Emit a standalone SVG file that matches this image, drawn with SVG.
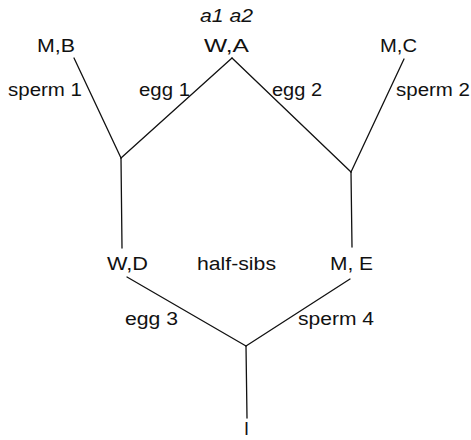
<svg xmlns="http://www.w3.org/2000/svg" width="471" height="440" viewBox="0 0 471 440">
  <style>
    text { font-family: "Liberation Sans", Arial, sans-serif; font-size: 18px; fill: #111; }
    .it { font-style: italic; }
    .edge { stroke: #111; stroke-width: 1.3; fill: none; stroke-linecap: round; }
  </style>
  <rect width="471" height="440" fill="#fff"/>
  <!-- connectors -->
  <g id="connectors">
    <line class="edge" x1="74" y1="58" x2="121" y2="158"/>
    <line class="edge" x1="232" y1="58" x2="121" y2="158"/>
    <line class="edge" x1="121" y1="158" x2="122" y2="248"/>
    <line class="edge" x1="232" y1="58" x2="351" y2="172"/>
    <line class="edge" x1="404" y1="59" x2="351" y2="172"/>
    <line class="edge" x1="351" y1="172" x2="352" y2="247"/>
    <line class="edge" x1="127" y1="277" x2="246" y2="346"/>
    <line class="edge" x1="350" y1="279" x2="246" y2="346"/>
    <line class="edge" x1="246" y1="346" x2="247" y2="418"/>
  </g>
  <!-- edge labels -->
  <g id="edge-labels">
    <text x="8" y="96" textLength="74" lengthAdjust="spacingAndGlyphs">sperm 1</text>
    <text x="139" y="96" textLength="51" lengthAdjust="spacingAndGlyphs">egg 1</text>
    <text x="272" y="96" textLength="50" lengthAdjust="spacingAndGlyphs">egg 2</text>
    <text x="396" y="96" textLength="74" lengthAdjust="spacingAndGlyphs">sperm 2</text>
    <text x="125" y="325" textLength="53" lengthAdjust="spacingAndGlyphs">egg 3</text>
    <text x="298" y="325" textLength="76" lengthAdjust="spacingAndGlyphs">sperm 4</text>
  </g>
  <!-- nodes -->
  <g id="node-MB"><text x="37" y="52" textLength="38" lengthAdjust="spacingAndGlyphs">M,B</text></g>
  <g id="node-WA">
    <text class="it" x="200" y="22" textLength="53" lengthAdjust="spacingAndGlyphs">a1 a2</text>
    <text x="204" y="52" textLength="45" lengthAdjust="spacingAndGlyphs">W,A</text>
  </g>
  <g id="node-MC"><text x="380" y="52" textLength="37" lengthAdjust="spacingAndGlyphs">M,C</text></g>
  <g id="node-WD"><text x="107" y="270" textLength="41" lengthAdjust="spacingAndGlyphs">W,D</text></g>
  <g id="node-halfsibs"><text x="197" y="270" textLength="79" lengthAdjust="spacingAndGlyphs">half-sibs</text></g>
  <g id="node-ME"><text x="330" y="270" textLength="43" lengthAdjust="spacingAndGlyphs">M, E</text></g>
  <g id="node-I"><text x="244" y="435">I</text></g>
</svg>
